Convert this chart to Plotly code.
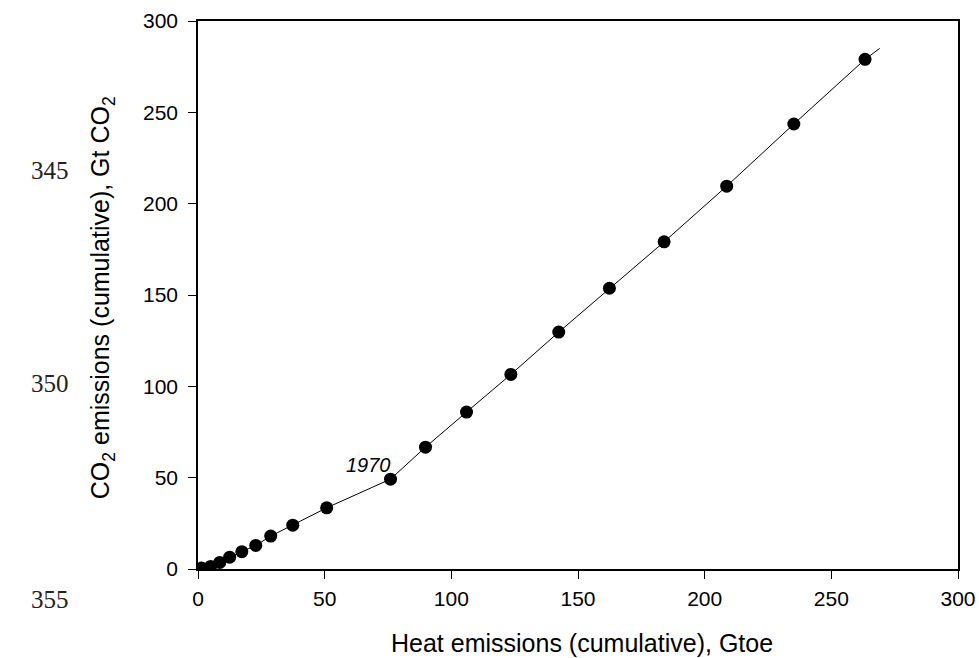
import plotly.graph_objects as go

# Data
heat = [1.4, 5.0, 8.6, 12.5, 17.3, 22.8, 28.7, 37.4, 50.8, 76.0, 89.8,
        106.0, 123.5, 142.4, 162.4, 184.0, 208.7, 235.2, 263.3]
co2 = [0.5, 1.4, 3.6, 6.5, 9.5, 12.9, 18.0, 24.0, 33.5, 49.2, 66.7,
       85.9, 106.5, 129.7, 153.7, 179.1, 209.6, 243.6, 279.0]
# line continues slightly beyond the last point
line_x = heat + [269.1]
line_y = co2 + [285.0]

x_ticks = [0, 50, 100, 150, 200, 250, 300]
y_ticks = [0, 50, 100, 150, 200, 250, 300]
x_title = "Heat emissions (cumulative), Gtoe"
y_title = "CO<sub>2</sub> emissions (cumulative), Gt CO<sub>2</sub>"
line_numbers = ["345", "350", "355"]
line_number_y = [0.7556, 0.3392, -0.0833]

SANS = "Liberation Sans, Arial, sans-serif"

fig = go.Figure()
fig.add_trace(go.Scatter(x=line_x, y=line_y, mode="lines",
                         line=dict(color="black", width=1), hoverinfo="skip",
                         showlegend=False))
fig.add_trace(go.Scatter(x=heat, y=co2, mode="markers",
                         marker=dict(color="black", size=13),
                         showlegend=False))

fig.add_annotation(x=67.4, y=57.1, text="<i>1970</i>", showarrow=False,
                   font=dict(family=SANS, size=20, color="black"))

for txt, yy in zip(line_numbers, line_number_y):
    fig.add_annotation(x=-0.2228, y=yy, xref="paper", yref="paper", text=txt,
                       showarrow=False,
                       font=dict(family="Liberation Serif, Times New Roman, serif", size=25, color="#222"))

# axis titles
fig.add_annotation(x=0.5055, y=-0.1344, xref="paper", yref="paper", text=x_title,
                   showarrow=False, xanchor="center", yanchor="middle",
                   font=dict(family=SANS, size=25, color="black"))
fig.add_annotation(x=-0.1252, y=0.4957, xref="paper", yref="paper", text=y_title,
                   showarrow=False, xanchor="center", yanchor="middle", textangle=-90,
                   font=dict(family=SANS, size=25, color="black"))

axis_common = dict(showgrid=False, zeroline=False, showline=True, linecolor="black",
                   linewidth=1.5, mirror=True, ticks="outside", ticklen=8,
                   tickwidth=1.2, tickcolor="black", automargin=False,
                   tickfont=dict(family=SANS, size=21, color="black"))

fig.update_xaxes(range=[0, 300], tickvals=x_ticks, ticktext=[str(v) for v in x_ticks],
                 ticklabelstandoff=2, ticklabeloverflow="allow", **axis_common)
fig.update_yaxes(range=[0, 300], tickvals=y_ticks, ticktext=[str(v) for v in y_ticks],
                 ticklabelstandoff=6, ticklabeloverflow="allow", **axis_common)

fig.update_layout(width=979, height=658, plot_bgcolor="white", paper_bgcolor="white",
                  margin=dict(l=198, r=21, t=21, b=89), autosize=False)

# remove the default page margin so the figure fills the 979x658 window exactly
fig.write_html("out.html", config={"displayModeBar": False},
               post_script="document.body.style.margin='0';")
